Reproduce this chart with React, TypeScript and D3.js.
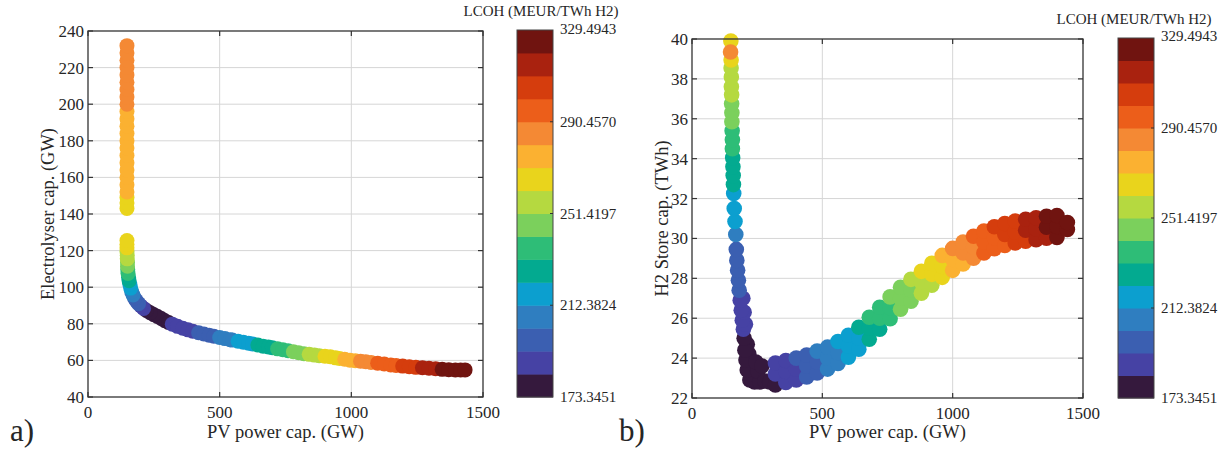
import React from 'react';
import * as d3 from 'd3';

// ---------- data ----------
type Pt = [number, number, number]; // [PV GW, capacity, LCOH]

const LCOH_MIN = 173.3451;
const LCOH_MAX = 329.4943;
const cbTickValues = [173.3451, 212.3824, 251.4197, 290.457, 329.4943];
const cbTickLabels = ['173.3451', '212.3824', '251.4197', '290.4570', '329.4943'];
const palette = [
  '#35193d', '#4642a4', '#3b5fb1', '#2f7ec0', '#0c9fcf', '#03aa90', '#2ebd77', '#7bd05c',
  '#b5d940', '#e9d41c', '#fbb131', '#f48934', '#ec5e1a', '#d53d0d', '#a9220f', '#701410',
];
const xTicks = [0, 500, 1000, 1500];
const aYTicks = [40, 60, 80, 100, 120, 140, 160, 180, 200, 220, 240];
const bYTicks = [22, 24, 26, 28, 30, 32, 34, 36, 38, 40];

// panel a: electrolyser capacity
const aUpper: Pt[] = [
  [148, 143, 267], [148, 146, 269], [148, 149, 270.5],
  [148, 152, 272], [148, 156, 273], [148, 160, 274], [148, 164, 275], [148, 168, 276], [148, 172, 276.5],
  [148, 176, 277], [148, 180, 278], [148, 184, 279], [148, 188, 279.5], [148, 192, 280], [148, 196, 280.5],
  [148, 200, 281.5], [148, 204, 282.5], [148, 208, 283], [148, 212, 284], [148, 216, 285], [148, 220, 286],
  [148, 224, 287], [148, 228, 288], [148, 232, 289],
];
const aCurve: Pt[] = [
  [148, 125.5, 268], [148, 123.5, 266], [148, 121.5, 263], [148, 119.5, 260], [149, 117.5, 258],
  [149, 115.5, 255], [150, 113.5, 250], [150, 111.5, 247], [151, 109.5, 240], [152, 107.5, 235],
  [154, 105.5, 229], [156, 103.5, 225], [159, 101.5, 220], [162, 99.5, 217], [166, 97.5, 211],
  [171, 95.7, 206], [177, 94, 201], [184, 92.5, 197], [192, 91, 193.5], [201, 89.7, 190],
  [211, 88.4, 184], [222, 87.3, 182.5], [236, 86.1, 180.5], [250, 85, 178.5], [264, 84, 177],
  [278, 82.9, 176], [292, 81.7, 176.5], [306, 80.7, 179], [320, 79.8, 184.5], [340, 78.6, 186],
  [360, 77.6, 188], [380, 76.7, 190], [398, 75.9, 192.5], [420, 75.1, 194], [440, 74.4, 196.5],
  [460, 73.8, 199], [478, 73.2, 202], [500, 72.5, 204], [520, 71.9, 207], [540, 71.3, 210],
  [548, 71.1, 212], [570, 70.5, 214], [590, 69.9, 217], [610, 69.4, 220], [625, 69, 222],
  [645, 68.4, 224], [665, 67.8, 227], [685, 67.3, 229.5], [700, 66.9, 231.5], [720, 66.3, 234],
  [740, 65.8, 237], [760, 65.3, 240], [780, 64.7, 243], [800, 64.2, 246], [820, 63.7, 249.5],
  [840, 63.3, 253], [860, 62.9, 256], [878, 62.6, 259], [900, 62.3, 262], [920, 62.0, 264.5],
  [940, 61.4, 267.5], [955, 61, 270], [975, 60.6, 273], [995, 60.1, 276], [1015, 59.8, 279.5],
  [1035, 59.6, 282.5], [1055, 59.3, 285.5], [1075, 58.9, 289], [1100, 58.5, 292], [1125, 58, 295],
  [1150, 57.5, 298], [1170, 57.2, 300], [1195, 56.9, 303], [1220, 56.5, 306], [1245, 56.2, 308.5],
  [1270, 56, 311], [1295, 55.7, 314], [1320, 55.4, 317], [1345, 55.1, 320.5], [1370, 54.9, 323],
  [1395, 54.8, 325], [1415, 54.8, 327], [1432, 54.8, 329],
];

// panel b: H2 store capacity
const bColumn: Pt[] = [
  [149, 39.9, 266], [148, 39.35, 284], [150, 38.95, 264], [150, 38.55, 259], [151, 38.1, 257],
  [151, 37.6, 255], [152, 37.2, 253], [152, 36.75, 248], [153, 36.3, 245], [153, 35.85, 243],
  [154, 35.4, 239], [155, 34.95, 236], [155, 34.5, 234], [156, 34.05, 230], [157, 33.6, 228],
  [158, 33.15, 226], [159, 32.7, 224], [160, 32.25, 220], [162, 31.5, 218], [165, 30.85, 215],
  [168, 30.2, 209], [170, 29.45, 200], [172, 28.9, 198], [175, 28.4, 197], [178, 27.9, 195],
  [181, 27.4, 193.5], [185, 26.9, 191], [189, 26.4, 189], [193, 25.9, 187], [197, 25.45, 185],
  [195, 27.0, 190], [200, 26.3, 188], [205, 25.7, 186],
];
const bValley: Pt[] = [
  [200, 25.0, 182], [212, 24.7, 180], [203, 24.4, 181], [218, 24.2, 178], [207, 23.9, 179],
  [228, 23.8, 177], [245, 23.8, 179], [212, 23.4, 177], [232, 23.3, 175], [252, 23.35, 177],
  [268, 23.6, 181], [222, 22.9, 176], [240, 22.8, 174], [260, 22.8, 176], [280, 22.85, 178],
  [298, 22.8, 180],
];
const bUpper: Pt[] = [
  [320, 23.75, 186.5], [360, 23.88, 190.4], [400, 24.0, 194.7], [440, 24.15, 199.6], [480, 24.35, 204.4],
  [520, 24.55, 209.3], [560, 24.83, 214.5], [600, 25.15, 220.0], [640, 25.55, 226.2], [680, 26.05, 232.6],
  [720, 26.55, 238.2], [760, 27.07, 243.8], [800, 27.55, 249.3], [840, 27.95, 255.5], [880, 28.35, 262.0],
  [920, 28.75, 268.5], [960, 29.15, 275.0], [1000, 29.5, 281.5], [1040, 29.82, 287.5], [1080, 30.11, 292.5],
  [1120, 30.37, 296.6], [1160, 30.59, 300.7], [1200, 30.75, 304.8], [1240, 30.87, 309.5], [1280, 30.96, 314.2],
  [1320, 31.04, 319.1], [1360, 31.11, 323.1], [1400, 31.15, 327.0],
];
const bMiddle: Pt[] = [
  [320, 23.2, 184.1], [360, 23.33, 188.0], [400, 23.45, 191.9], [440, 23.6, 196.5], [480, 23.8, 201.4],
  [520, 24.0, 206.3], [560, 24.28, 211.2], [600, 24.6, 216.6], [640, 25.0, 222.1], [680, 25.5, 228.6],
  [720, 26.0, 234.7], [760, 26.52, 240.3], [800, 27.0, 245.9], [840, 27.4, 251.4], [880, 27.8, 257.9],
  [920, 28.2, 264.4], [960, 28.6, 270.9], [1000, 28.95, 277.4], [1040, 29.27, 283.7], [1080, 29.56, 289.7],
  [1120, 29.82, 294.1], [1160, 30.04, 298.2], [1200, 30.2, 302.2], [1240, 30.32, 306.5], [1280, 30.41, 311.2],
  [1320, 30.49, 316.0], [1360, 30.56, 320.7], [1400, 30.6, 324.6], [1440, 30.8, 328.4],
];
const bLower: Pt[] = [
  [320, 22.65, 181.6], [360, 22.78, 185.5], [400, 22.9, 189.5], [440, 23.05, 193.5], [480, 23.25, 198.4],
  [520, 23.45, 203.2], [560, 23.73, 208.1], [600, 24.05, 213.1], [640, 24.45, 218.6], [680, 24.95, 224.6],
  [720, 25.45, 231.1], [760, 25.97, 236.8], [800, 26.45, 242.4], [840, 26.85, 248.0], [880, 27.25, 253.9],
  [920, 27.65, 260.4], [960, 28.05, 266.8], [1000, 28.4, 273.4], [1040, 28.72, 279.9], [1080, 29.01, 286.0],
  [1120, 29.27, 291.5], [1160, 29.49, 295.6], [1200, 29.65, 299.7], [1240, 29.77, 303.8], [1280, 29.86, 308.0],
  [1320, 29.94, 313.0], [1360, 30.01, 317.9], [1400, 30.05, 322.2], [1440, 30.45, 326.0],
];

// ---------- drawing ----------
const FONT = 'Liberation Serif, Tinos, Times New Roman, Times, serif';
const TEXT = '#262626';
const color = d3.scaleQuantize<string>().domain([LCOH_MIN, LCOH_MAX]).range(palette);

type PanelProps = {
  x0: number; x1: number; y0: number; y1: number;
  yDomain: [number, number]; yTicks: number[];
  data: Pt[]; r: number;
  yLabel: string; yLabelX: number;
  xLabel: string;
  tag: string; tagX: number;
  cbX: number; cbY0: number; cbY1: number; cbTitleX: number; cbTitleY: number; cbTopLabelY: number;
};

function Panel(p: PanelProps) {
  const x = d3.scaleLinear().domain([0, 1500]).range([p.x0, p.x1]);
  const y = d3.scaleLinear().domain(p.yDomain).range([p.y1, p.y0]);
  const sorted = [...p.data].sort((a, b) => a[2] - b[2]);
  const cy = d3.scaleLinear().domain([LCOH_MIN, LCOH_MAX]).range([p.cbY1, p.cbY0]);
  const step = (LCOH_MAX - LCOH_MIN) / palette.length;
  const cbW = 36;
  const tl = 5;
  return (
    <g style={{ fontFamily: FONT }} fill={TEXT}>
      {xTicks.slice(1, -1).map((t) => (
        <line key={'gx' + t} x1={x(t)} x2={x(t)} y1={p.y0} y2={p.y1} stroke="#d6d6d6" strokeWidth={1} />
      ))}
      {p.yTicks.slice(1, -1).map((t) => (
        <line key={'gy' + t} x1={p.x0} x2={p.x1} y1={y(t)} y2={y(t)} stroke="#d6d6d6" strokeWidth={1} />
      ))}
      {sorted.map((d, i) => (
        <circle key={i} cx={x(d[0])} cy={y(d[1])} r={p.r} fill={color(d[2])} />
      ))}
      <rect x={p.x0} y={p.y0} width={p.x1 - p.x0} height={p.y1 - p.y0} fill="none" stroke="#333" strokeWidth={1.3} />
      {xTicks.map((t) => (
        <g key={'tx' + t}>
          <line x1={x(t)} x2={x(t)} y1={p.y1} y2={p.y1 - tl} stroke="#333" strokeWidth={1.2} />
          <line x1={x(t)} x2={x(t)} y1={p.y0} y2={p.y0 + tl} stroke="#333" strokeWidth={1.2} />
          <text x={x(t)} y={p.y1 + 21} fontSize={17} textAnchor="middle">{t}</text>
        </g>
      ))}
      {p.yTicks.map((t) => (
        <g key={'ty' + t}>
          <line x1={p.x0} x2={p.x0 + tl} y1={y(t)} y2={y(t)} stroke="#333" strokeWidth={1.2} />
          <line x1={p.x1} x2={p.x1 - tl} y1={y(t)} y2={y(t)} stroke="#333" strokeWidth={1.2} />
          <text x={p.x0 - 4} y={y(t) + 6} fontSize={17} textAnchor="end">{t}</text>
        </g>
      ))}
      <text x={(p.x0 + p.x1) / 2} y={438} fontSize={18.5} textAnchor="middle">{p.xLabel}</text>
      <text transform={`translate(${p.yLabelX},${(p.y0 + p.y1) / 2}) rotate(-90)`} fontSize={18.5} textAnchor="middle" dy="0.35em">
        {p.yLabel}
      </text>
      <text x={p.tagX} y={441} fontSize={31}>{p.tag}</text>
      {palette.map((c, i) => (
        <rect key={'cb' + i} x={p.cbX} y={cy(LCOH_MIN + (i + 1) * step)} width={cbW}
          height={cy(LCOH_MIN + i * step) - cy(LCOH_MIN + (i + 1) * step) + 0.5} fill={c} />
      ))}
      <rect x={p.cbX} y={p.cbY0} width={cbW} height={p.cbY1 - p.cbY0} fill="none" stroke="#444" strokeWidth={1} />
      {cbTickValues.map((v, i) => (
        <g key={'cbt' + i}>
          {i > 0 && i < cbTickValues.length - 1 && (
            <line x1={p.cbX + cbW} x2={p.cbX + cbW - 3} y1={cy(v)} y2={cy(v)} stroke="#333" strokeWidth={1} />
          )}
          <text x={p.cbX + cbW + 7} y={i === cbTickValues.length - 1 ? p.cbTopLabelY + 5 : cy(v) + 5} fontSize={15}>
            {cbTickLabels[i]}
          </text>
        </g>
      ))}
      <text x={p.cbTitleX} y={p.cbTitleY + 5} fontSize={15} textAnchor="middle">LCOH (MEUR/TWh H2)</text>
    </g>
  );
}

export default function App() {
  return (
    <svg width={1225} height={456} style={{ position: 'absolute', left: 0, top: 0, background: '#fff' }}>
      <rect width={1225} height={456} fill="#fff" />
      <Panel
        x0={88} x1={483} y0={31} y1={397}
        yDomain={[40, 240]} yTicks={aYTicks}
        data={[...aUpper, ...aCurve]} r={7.5}
        yLabel="Electrolyser cap. (GW)" yLabelX={48}
        xLabel="PV power cap. (GW)"
        tag="a)" tagX={10}
        cbX={517} cbY0={30} cbY1={397} cbTitleX={541} cbTitleY={11} cbTopLabelY={29}
      />
      <Panel
        x0={692} x1={1083} y0={39} y1={398}
        yDomain={[22, 40]} yTicks={bYTicks}
        data={[...bColumn, ...bValley, ...bUpper, ...bMiddle, ...bLower]} r={7.8}
        yLabel="H2 Store cap. (TWh)" yLabelX={662}
        xLabel="PV power cap. (GW)"
        tag="b)" tagX={619}
        cbX={1118} cbY0={38} cbY1={398} cbTitleX={1134} cbTitleY={19} cbTopLabelY={36}
      />
    </svg>
  );
}
